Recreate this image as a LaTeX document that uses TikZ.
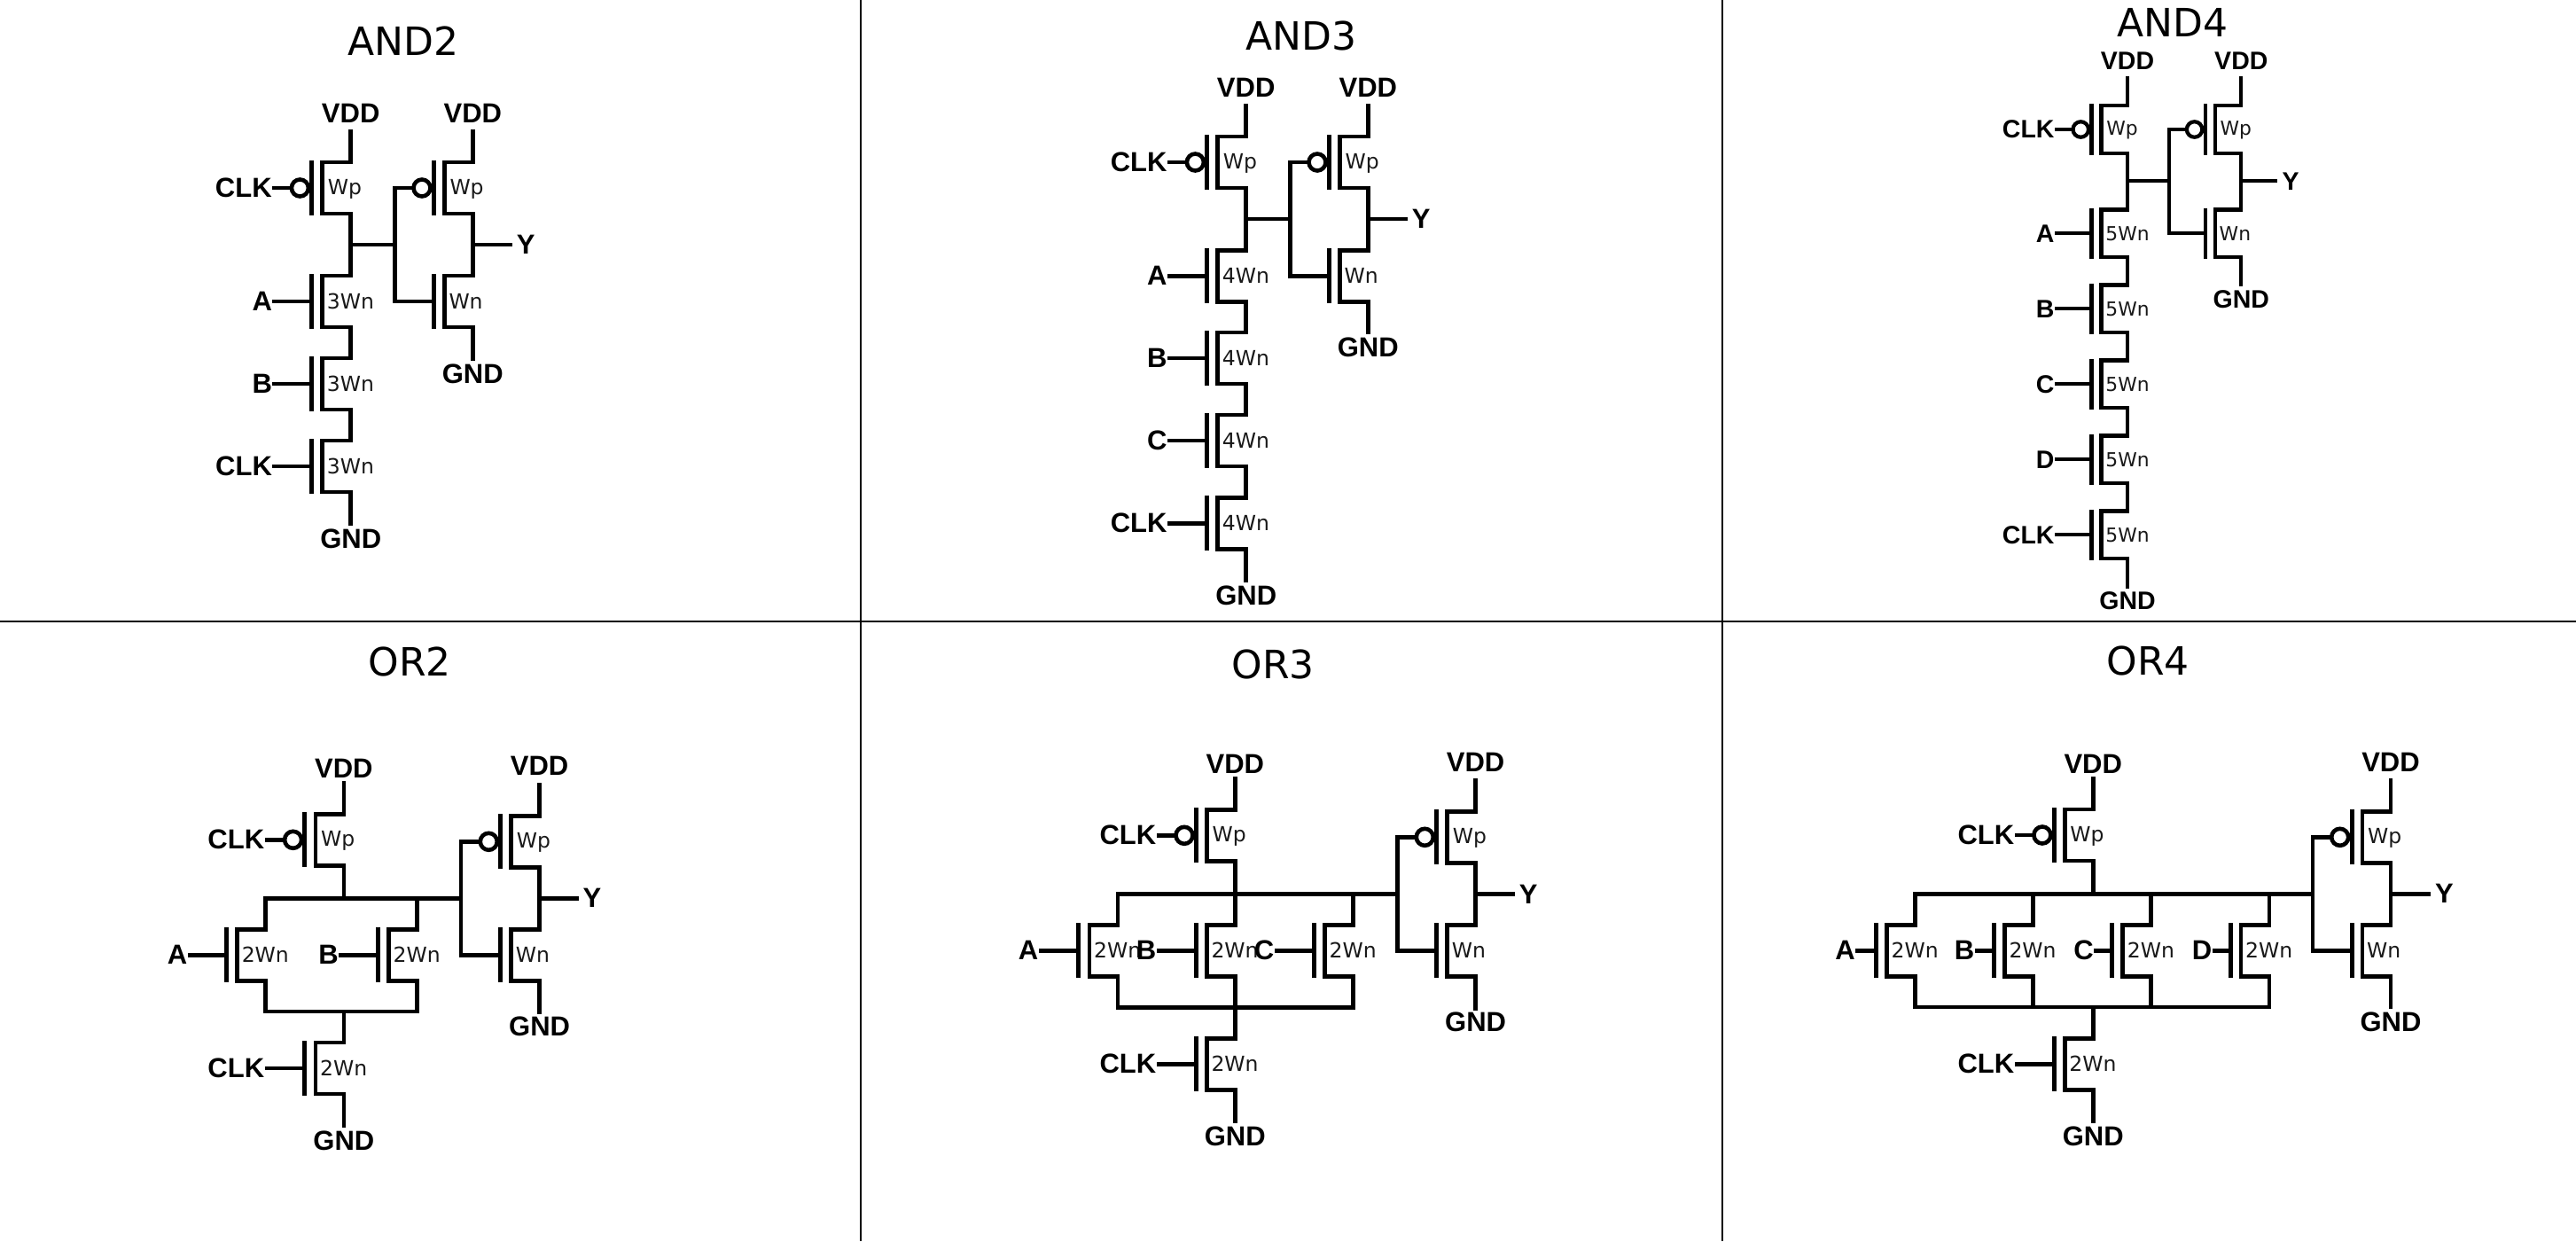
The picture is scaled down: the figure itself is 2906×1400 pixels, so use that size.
\documentclass[tikz,border=0pt]{standalone}
\usepackage{fontspec}
\setmainfont{Liberation Sans}
\newfontfamily\dejaf{DejaVu Sans}
\def\kk{1}
\def\psz{31}
\def\msz{23.5}
\tikzset{
  wire/.style={draw=black,line width=\kk*4.7pt,line cap=rect,miter limit=10},
  gatebar/.style={draw=black,line width=\kk*5pt},
  gridline/.style={draw=black,line width=2.4pt},
  mlabel/.style={anchor=base west,inner sep=0pt,text=black!90,font=\fontsize{\msz}{\msz}\dejaf\selectfont},
  pwr/.style={inner sep=0pt,font=\fontsize{\psz}{\psz}\selectfont\bfseries},
  pinl/.style={anchor=east,inner xsep=2.6pt,inner ysep=0pt,font=\fontsize{\psz}{\psz}\selectfont\bfseries},
  pinr/.style={anchor=west,inner xsep=7pt,inner ysep=0pt,font=\fontsize{\psz}{\psz}\selectfont\bfseries},
  bubble/.style={circle,draw=black,fill=white,line width=\kk*4.6pt,inner sep=0pt,minimum size=\kk*19pt},
  title/.style={inner sep=0pt,font=\fontsize{44}{44}\dejaf\selectfont},
}
% name, x, y, label
\newcommand{\nmos}[4]{\begin{scope}[shift={(#2,#3)},x=\kk pt,y=-\kk pt]
  \coordinate (#1t) at (0,-29); \coordinate (#1b) at (0,29); \coordinate (#1g) at (-44,0);
  \draw[wire] (#1t) -- (-32,-29) -- (-32,29) -- (#1b);
  \draw[gatebar] (-44,-31) -- (-44,31);
  \node[mlabel] (#1l) at (-27,8.5) {#4};
\end{scope}}
\newcommand{\pmosx}[3]{\begin{scope}[shift={(#2,#3)},x=\kk pt,y=-\kk pt]
  \coordinate (#1t) at (0,-29); \coordinate (#1b) at (0,29); \coordinate (#1g) at (-44,0);
  \draw[wire] (#1t) -- (-32,-29) -- (-32,29) -- (#1b);
  \draw[gatebar] (-44,-31) -- (-44,31);
  \node[bubble] (#1o) at (-57.3,0) {};
  \node[mlabel] (#1l) at (-26,7) {Wp};
\end{scope}}
% transistor, x, line top, text y
\newcommand{\vdd}[4]{\node[pwr] (#1v) at (#2,#4) {VDD}; \coordinate (#1e) at (#2,#3+2); \draw[wire] (#1e) -- (#1t);}
\newcommand{\gnd}[4]{\node[pwr] (#1v) at (#2,#4) {GND}; \coordinate (#1e) at (#2,#3-2); \draw[wire] (#1e) -- (#1b);}
% transistor, start x, y, text
\newcommand{\inp}[4]{\node[pinl] (#1i) at (#2+2,#3) {#4}; \draw[wire] (#1i.east) -- (#1g);}
\newcommand{\inpb}[4]{\node[pinl] (#1i) at (#2+2,#3) {#4}; \draw[wire] (#1i.east) -- (#1o);}
\begin{document}
\begin{tikzpicture}[x=1pt,y=-1pt]
\useasboundingbox (0,0) rectangle (2906,1400);
\fill[white] (0,0) rectangle (2906,1400);
\coordinate (h1) at (0,701); \coordinate (h2) at (2906,701);
\coordinate (v1a) at (971,0); \coordinate (v1b) at (971,1400);
\coordinate (v2a) at (1943,0); \coordinate (v2b) at (1943,1400);
\draw[gridline] (h1) -- (h2);
\draw[gridline] (v1a) -- (v1b);
\draw[gridline] (v2a) -- (v2b);

% ---------- AND2
\node[title] (tand2) at (454.7,46) {AND2};
\pmosx{pa}{395.7}{212}
\pmosx{pb}{533.3}{212}
\nmos{pc}{395.7}{340}{3Wn}
\nmos{pd}{533.3}{340}{Wn}
\nmos{pe}{395.7}{433}{3Wn}
\nmos{pf}{395.7}{526}{3Wn}
\vdd{pa}{395.7}{146}{127.6}
\vdd{pb}{533.3}{146}{127.6}
\gnd{pf}{395.7}{593}{607.7}
\gnd{pd}{533.3}{406.7}{421.7}
\inpb{pa}{307.5}{212}{CLK}
\inp{pc}{307.7}{340}{A}
\inp{pe}{307.7}{433}{B}
\inp{pf}{307.7}{526}{CLK}
\coordinate (pJ) at (445.7,276);
\coordinate (pYe) at (575.7,276);
\draw[wire] (pab) -- (pct);
\draw[wire] (pcb) -- (pet);
\draw[wire] (peb) -- (pft);
\draw[wire] (pbb) -- (pdt);
\draw[wire] (pab |- pJ) -- (pJ);
\draw[wire] (pbo) -| (pJ) |- (pdg);
\node[pinr] (pY) at (pYe) {Y};
\draw[wire] (pbb |- pJ) -- (pY.west);

% ---------- AND3
\node[title] (tand3) at (1468,40) {AND3};
\pmosx{qa}{1405.7}{183}
\pmosx{qb}{1543.3}{183}
\nmos{qc}{1405.7}{311.3}{4Wn}
\nmos{qd}{1543.3}{311.3}{Wn}
\nmos{qe}{1405.7}{404}{4Wn}
\nmos{qf}{1405.7}{497}{4Wn}
\nmos{qg}{1405.7}{590.3}{4Wn}
\vdd{qa}{1405.7}{117.3}{98.7}
\vdd{qb}{1543.3}{117.3}{98.7}
\gnd{qg}{1405.7}{656.7}{671.7}
\gnd{qd}{1543.3}{376.7}{392.3}
\inpb{qa}{1317.3}{183}{CLK}
\inp{qc}{1317.3}{311.3}{A}
\inp{qe}{1317.3}{404}{B}
\inp{qf}{1317.3}{497}{C}
\inp{qg}{1317.3}{590.3}{CLK}
\coordinate (qJ) at (1455.7,247);
\coordinate (qYe) at (1585.7,247);
\draw[wire] (qab) -- (qct);
\draw[wire] (qcb) -- (qet);
\draw[wire] (qeb) -- (qft);
\draw[wire] (qfb) -- (qgt);
\draw[wire] (qbb) -- (qdt);
\draw[wire] (qab |- qJ) -- (qJ);
\draw[wire] (qbo) -| (qJ) |- (qdg);
\node[pinr] (qY) at (qYe) {Y};
\draw[wire] (qbb |- qJ) -- (qY.west);

% ---------- AND4 (drawn slightly smaller)
\node[title] (tand4) at (2451,25) {AND4};
\def\kk{.92}\def\psz{28.5}\def\msz{21.8}
\pmosx{ra}{2400}{146}
\pmosx{rb}{2528.3}{146}
\nmos{rc}{2400}{263.3}{5Wn}
\nmos{rd}{2528.3}{263.3}{Wn}
\nmos{re}{2400}{348.3}{5Wn}
\nmos{rf}{2400}{433.3}{5Wn}
\nmos{rg}{2400}{518.3}{5Wn}
\nmos{rh}{2400}{603.3}{5Wn}
\vdd{ra}{2400}{86}{69}
\vdd{rb}{2528.3}{86}{69}
\gnd{rh}{2400}{664}{677.3}
\gnd{rd}{2528.3}{323.3}{337.3}
\inpb{ra}{2318.3}{146}{CLK}
\inp{rc}{2318.3}{263.3}{A}
\inp{re}{2318.3}{348.3}{B}
\inp{rf}{2318.3}{433.3}{C}
\inp{rg}{2318.3}{518.3}{D}
\inp{rh}{2318.3}{603.3}{CLK}
\coordinate (rJ) at (2446.7,204.3);
\coordinate (rYe) at (2567.3,204.3);
\draw[wire] (rab) -- (rct);
\draw[wire] (rcb) -- (ret);
\draw[wire] (reb) -- (rft);
\draw[wire] (rfb) -- (rgt);
\draw[wire] (rgb) -- (rht);
\draw[wire] (rbb) -- (rdt);
\draw[wire] (rab |- rJ) -- (rJ);
\draw[wire] (rbo) -| (rJ) |- (rdg);
\node[pinr] (rY) at (rYe) {Y};
\draw[wire] (rbb |- rJ) -- (rY.west);
\def\kk{1}\def\psz{31}\def\msz{23.5}

% ---------- OR2
\node[title] (tor2) at (462,746.7) {OR2};
\pmosx{sa}{387.9}{947.3}
\pmosx{sb}{608.6}{949.3}
\nmos{sc}{299.6}{1077.3}{2Wn}
\nmos{sd}{470.4}{1077.3}{2Wn}
\nmos{se}{608.6}{1077.3}{Wn}
\nmos{sf}{387.9}{1205}{2Wn}
\vdd{sa}{387.9}{881.7}{866.7}
\vdd{sb}{608.6}{883.3}{864.3}
\gnd{se}{608.6}{1143.3}{1158}
\gnd{sf}{387.9}{1271.7}{1286.7}
\inpb{sa}{299}{947.3}{CLK}
\inp{sc}{212}{1077.3}{A}
\inp{sd}{382.5}{1077.3}{B}
\inp{sf}{299}{1205}{CLK}
\coordinate (sJ) at (520,1013.3);
\coordinate (sL) at (470.4,1141);
\coordinate (sYe) at (650.5,1013.3);
\draw[wire] (sct) |- (sJ);
\draw[wire] (sab) -- (sab |- sJ);
\draw[wire] (sdt) -- (sdt |- sJ);
\draw[wire] (scb) |- (sL) -- (sdb);
\draw[wire] (sft) -- (sft |- sL);
\draw[wire] (sbb) -- (set);
\draw[wire] (sbo) -| (sJ) |- (seg);
\node[pinr] (sY) at (sYe) {Y};
\draw[wire] (sbb |- sJ) -- (sY.west);

% ---------- OR3
\node[title] (tor3) at (1436,749) {OR3};
\pmosx{ta}{1393.3}{942.3}
\pmosx{tb}{1664.6}{944.3}
\nmos{tc}{1260.9}{1072.3}{2Wn}
\nmos{td}{1393.3}{1072.3}{2Wn}
\nmos{te}{1526.5}{1072.3}{2Wn}
\nmos{tf}{1664.6}{1072.3}{Wn}
\nmos{tg}{1393.3}{1200.3}{2Wn}
\vdd{ta}{1393.3}{876.7}{861.7}
\vdd{tb}{1664.6}{878.3}{860}
\gnd{tf}{1664.6}{1140}{1153.3}
\gnd{tg}{1393.3}{1266.7}{1282.3}
\inpb{ta}{1305}{942.3}{CLK}
\inp{tc}{1172}{1072.3}{A}
\inp{td}{1305}{1072.3}{B}
\inp{te}{1438}{1072.3}{C}
\inp{tg}{1305}{1200.3}{CLK}
\coordinate (tJ) at (1576.6,1008.7);
\coordinate (tL) at (1526.5,1136.3);
\coordinate (tYe) at (1706.6,1008.7);
\draw[wire] (tct) |- (tJ);
\draw[wire] (tab) -- (tab |- tJ);
\draw[wire] (tdt) -- (tdt |- tJ);
\draw[wire] (tet) -- (tet |- tJ);
\draw[wire] (tcb) |- (tL) -- (teb);
\draw[wire] (tdb) -- (tdb |- tL);
\draw[wire] (tgt) -- (tgt |- tL);
\draw[wire] (tbb) -- (tft);
\draw[wire] (tbo) -| (tJ) |- (tfg);
\node[pinr] (tY) at (tYe) {Y};
\draw[wire] (tbb |- tJ) -- (tY.west);

% ---------- OR4
\node[title] (tor4) at (2423,745) {OR4};
\pmosx{ua}{2361.2}{942}
\pmosx{ub}{2697}{944.3}
\nmos{uc}{2160.5}{1072.3}{2Wn}
\nmos{ud}{2293.3}{1072.3}{2Wn}
\nmos{ue}{2426.6}{1072.3}{2Wn}
\nmos{uf}{2560}{1072.3}{2Wn}
\nmos{ug}{2697}{1072.3}{Wn}
\nmos{uh}{2361.2}{1200.3}{2Wn}
\vdd{ua}{2361.2}{876.7}{861.7}
\vdd{ub}{2697}{878.3}{860}
\gnd{ug}{2697}{1137.7}{1153.3}
\gnd{uh}{2361.2}{1266.7}{1281.7}
\inpb{ua}{2273}{942}{CLK}
\inp{uc}{2093.6}{1072.3}{A}
\inp{ud}{2228}{1072.3}{B}
\inp{ue}{2362.6}{1072.3}{C}
\inp{uf}{2496}{1072.3}{D}
\inp{uh}{2273}{1200.3}{CLK}
\coordinate (uJ) at (2608.9,1008.3);
\coordinate (uL) at (2560,1136);
\coordinate (uYe) at (2740,1008.3);
\draw[wire] (uct) |- (uJ);
\draw[wire] (uab) -- (uab |- uJ);
\draw[wire] (udt) -- (udt |- uJ);
\draw[wire] (uet) -- (uet |- uJ);
\draw[wire] (uft) -- (uft |- uJ);
\draw[wire] (ucb) |- (uL) -- (ufb);
\draw[wire] (udb) -- (udb |- uL);
\draw[wire] (ueb) -- (ueb |- uL);
\draw[wire] (uht) -- (uht |- uL);
\draw[wire] (ubb) -- (ugt);
\draw[wire] (ubo) -| (uJ) |- (ugg);
\node[pinr] (uY) at (uYe) {Y};
\draw[wire] (ubb |- uJ) -- (uY.west);
\end{tikzpicture}
\end{document}
